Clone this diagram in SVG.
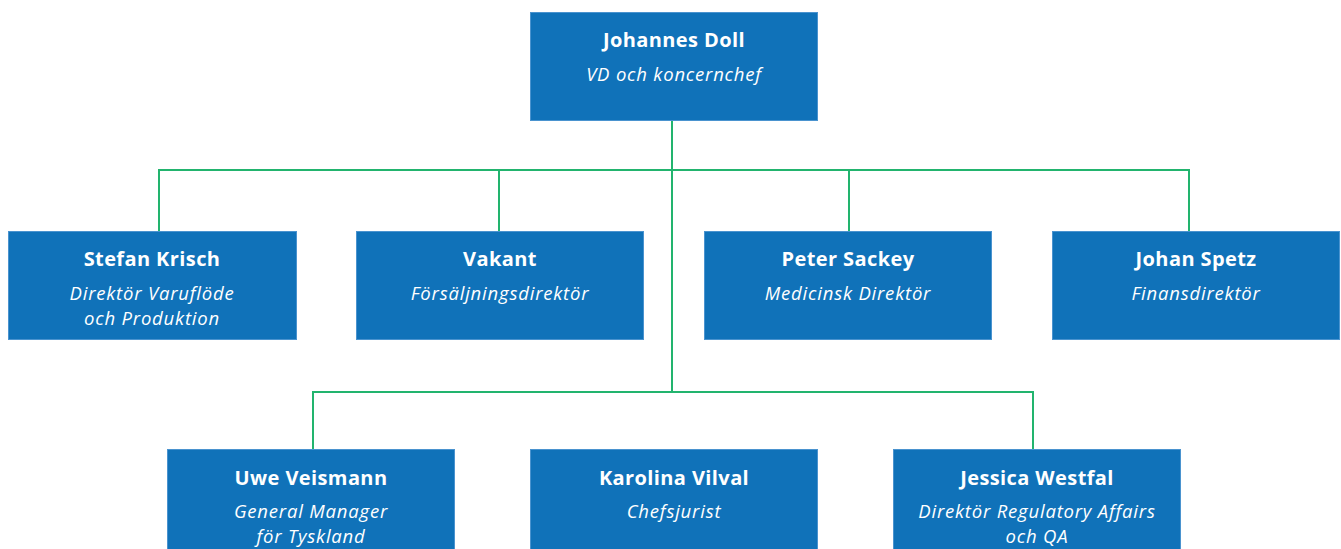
<svg xmlns="http://www.w3.org/2000/svg" width="1341" height="549" viewBox="0 0 1341 549">
<style>
.box{fill:#1072b9;stroke:#4a93cf;stroke-width:1}
.name{font-family:"Open Sans",Lato,sans-serif;font-weight:bold;font-size:20px;fill:#ffffff;text-anchor:middle;letter-spacing:0.4px}
.role{font-family:"Open Sans",Lato,sans-serif;font-style:italic;font-size:18.5px;fill:#ffffff;text-anchor:middle;letter-spacing:0.8px}
.conn{fill:none;stroke:#22b46e;stroke-width:2}
</style>
<rect width="1341" height="549" fill="#ffffff"/>
<g id="connectors">
<path class="conn" d="M672,120 V392"/>
<path class="conn" d="M159,231 V170 H1189 V231"/>
<path class="conn" d="M499,170 V231"/>
<path class="conn" d="M849,170 V231"/>
<path class="conn" d="M313,449 V392 H1033 V449"/>
</g>
<g id="johannes-doll">
<rect class="box" x="530.5" y="12.5" width="287" height="108"/>
<text class="name" x="674" y="47">Johannes Doll</text>
<text class="role" x="674" y="81">VD och koncernchef</text>
</g>
<g id="stefan-krisch">
<rect class="box" x="8.5" y="231.5" width="288" height="108"/>
<text class="name" x="152" y="266">Stefan Krisch</text>
<text class="role" x="152" y="300">Direktör Varuflöde</text>
<text class="role" x="152" y="325">och Produktion</text>
</g>
<g id="vakant">
<rect class="box" x="356.5" y="231.5" width="287" height="108"/>
<text class="name" x="500" y="266">Vakant</text>
<text class="role" x="500" y="300">Försäljningsdirektör</text>
</g>
<g id="peter-sackey">
<rect class="box" x="704.5" y="231.5" width="287" height="108"/>
<text class="name" x="848" y="266">Peter Sackey</text>
<text class="role" x="848" y="300">Medicinsk Direktör</text>
</g>
<g id="johan-spetz">
<rect class="box" x="1052.5" y="231.5" width="287" height="108"/>
<text class="name" x="1196" y="266">Johan Spetz</text>
<text class="role" x="1196" y="300">Finansdirektör</text>
</g>
<g id="uwe-veismann">
<rect class="box" x="167.5" y="449.5" width="287" height="108"/>
<text class="name" x="311" y="485">Uwe Veismann</text>
<text class="role" x="311" y="518">General Manager</text>
<text class="role" x="311" y="543">för Tyskland</text>
</g>
<g id="karolina-vilval">
<rect class="box" x="530.5" y="449.5" width="287" height="108"/>
<text class="name" x="674" y="485">Karolina Vilval</text>
<text class="role" x="674" y="518">Chefsjurist</text>
</g>
<g id="jessica-westfal">
<rect class="box" x="893.5" y="449.5" width="287" height="108"/>
<text class="name" x="1037" y="485">Jessica Westfal</text>
<text class="role" x="1037" y="518">Direktör Regulatory Affairs</text>
<text class="role" x="1037" y="543">och QA</text>
</g>
</svg>
